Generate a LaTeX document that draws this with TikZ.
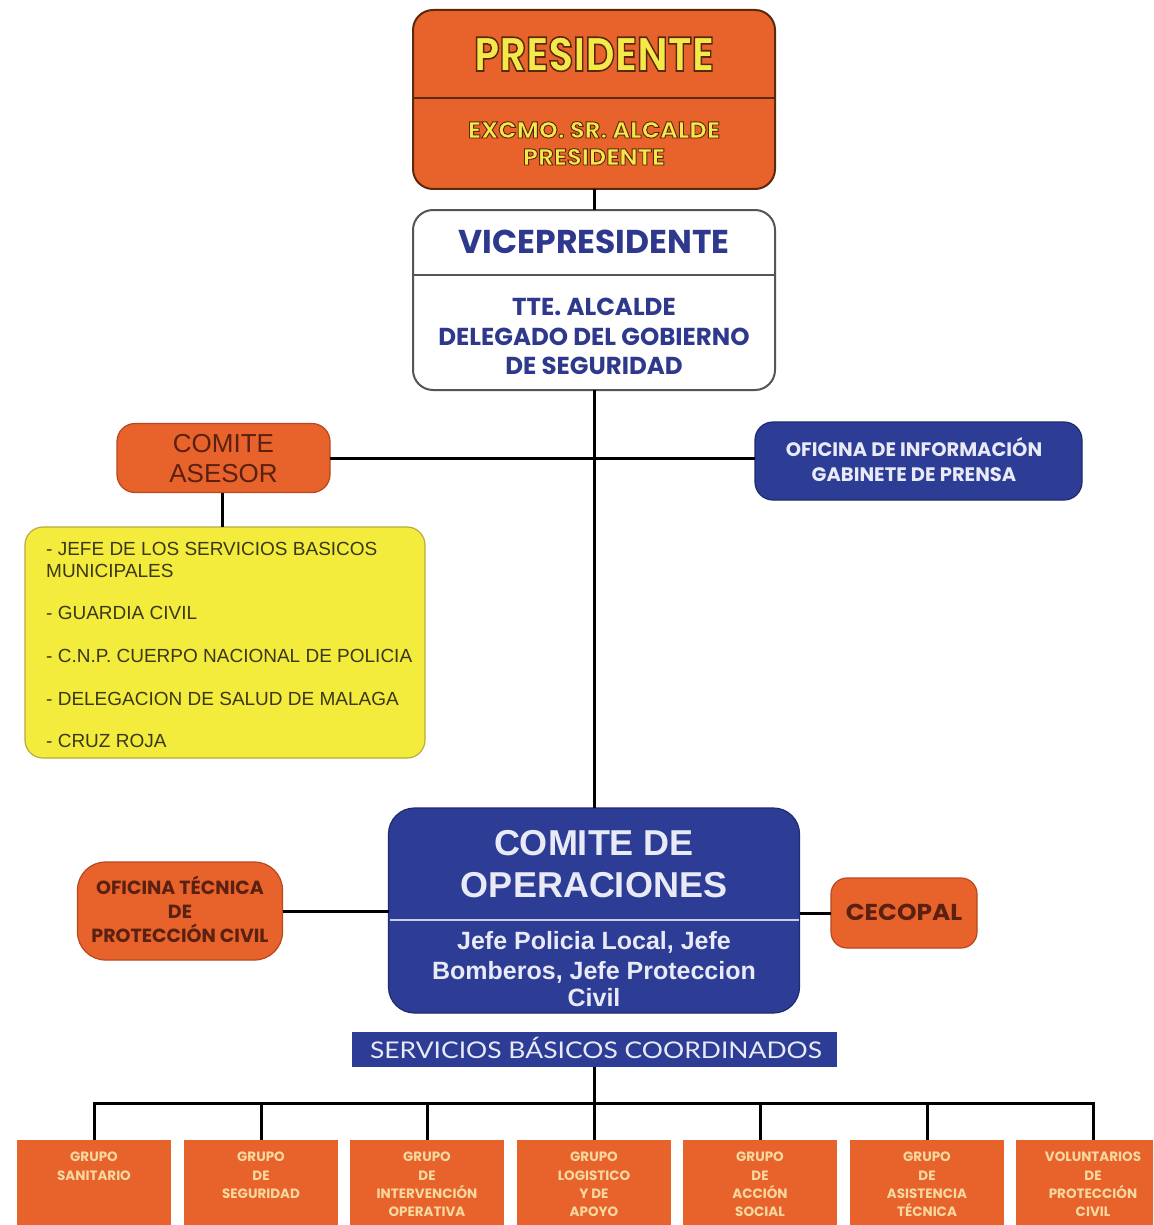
\documentclass[tikz,border=0pt]{standalone}
\usepackage{fontspec}
\usepackage{graphicx}
\setmainfont{Liberation Sans}
\newfontfamily\popf{Poppins}
\newfontfamily\latof{Lato}
\definecolor{org}{HTML}{E8622B}
\definecolor{orgdk}{HTML}{B8481E}
\definecolor{shd}{HTML}{5A2A0E}
\definecolor{blu}{HTML}{2D3C95}
\definecolor{bludk}{HTML}{1F2A70}
\definecolor{ylw}{HTML}{F4EC3C}
\definecolor{ylwdk}{HTML}{B8AC3A}
\definecolor{ytxt}{HTML}{F5E84A}
\definecolor{vtxt}{HTML}{2E388C}
\definecolor{ltxt}{HTML}{E8EAF6}
\definecolor{brn}{HTML}{5A2010}
\definecolor{olv}{HTML}{3A3818}
\definecolor{peach}{HTML}{F7D9A0}
\definecolor{divl}{HTML}{C8CFEA}
\definecolor{gryb}{HTML}{555555}
% yellow text with a dark outline (text render mode: fill + stroke)
\newcommand{\outlined}[2]{\special{pdf:literal direct 2 Tr #1 w 0.35 0.16 0.05 RG}#2\special{pdf:literal direct 0 Tr}}
\begin{document}
\begin{tikzpicture}[x=1pt,y=-1pt,
  conn/.style={line width=3pt, draw=black},
  boxbase/.style={inner sep=0pt, outer sep=0pt, line width=1.2pt},
  orgbox/.style={boxbase, fill=org, draw=orgdk},
  blubox/.style={boxbase, fill=blu, draw=bludk},
  grpbox/.style={boxbase, fill=org, draw=none, anchor=north, minimum width=154pt, minimum height=100pt},
  lbl/.style={inner sep=0pt, anchor=base},
  lblw/.style={inner sep=0pt, anchor=base west},
  titlefont/.style={font=\popf\bfseries\fontsize{48}{48}\selectfont, text=ytxt},
  excfont/.style={font=\popf\bfseries\fontsize{23}{23}\selectfont, text=ytxt},
  vicefont/.style={font=\popf\bfseries\fontsize{33}{33}\selectfont, text=vtxt},
  ttefont/.style={font=\popf\bfseries\fontsize{24.5}{24.5}\selectfont, text=vtxt},
  asefont/.style={font=\fontsize{26}{26}\selectfont, text=brn},
  ylwfont/.style={font=\fontsize{19}{19}\selectfont, text=olv},
  inffont/.style={font=\popf\bfseries\fontsize{19.5}{19.5}\selectfont, text=ltxt},
  tecfont/.style={font=\popf\bfseries\fontsize{19}{19}\selectfont, text=brn},
  cecfont/.style={font=\popf\bfseries\fontsize{23}{23}\selectfont, text=brn},
  opfont/.style={font=\bfseries\fontsize{36}{36}\selectfont, text=ltxt},
  jefefont/.style={font=\bfseries\fontsize{25}{25}\selectfont, text=ltxt},
  servfont/.style={font=\latof\fontsize{23}{23}\selectfont, text=ltxt},
  grpfont/.style={inner sep=0pt, anchor=north, align=center, text=peach, font=\popf\bfseries\fontsize{13.5}{18.3}\selectfont}
]
\clip (0,0) rectangle (1153,1225);
\fill[white] (0,0) rectangle (1153,1225);

% ---------- boxes ----------
\node[orgbox, draw=shd, line width=2pt, rounded corners=20pt, minimum width=362pt, minimum height=179pt] (pres) at (594,99.5) {};
\node[boxbase, fill=white, draw=gryb, line width=2pt, rounded corners=20pt, minimum width=362pt, minimum height=180pt] (vice) at (594,300) {};
\node[orgbox, rounded corners=18pt, minimum width=213pt, minimum height=69pt] (asesor) at (223.5,458) {};
\node[boxbase, fill=ylw, draw=ylwdk, rounded corners=18pt, minimum width=400pt, minimum height=231pt] (ylwbox) at (225,642.5) {};
\node[blubox, rounded corners=18pt, minimum width=327pt, minimum height=78pt] (ofinf) at (918.5,461) {};
\node[orgbox, rounded corners=28pt, minimum width=205pt, minimum height=98pt] (oftec) at (180,911) {};
\node[orgbox, rounded corners=16pt, minimum width=146pt, minimum height=70pt] (cecopal) at (904,913) {};
\node[blubox, rounded corners=26pt, minimum width=411pt, minimum height=205pt] (comite) at (594,910.5) {};
\node[boxbase, fill=blu, draw=none, minimum width=485pt, minimum height=35pt] (serv) at (594,1049.5) {};

% dividers
\coordinate (presdiv) at (594,98);
\coordinate (vicediv) at (594,275);
\coordinate (comdiv) at (594,920);
\draw[line width=1.5pt, draw=shd] (pres.west |- presdiv) -- (pres.east |- presdiv);
\draw[line width=1.5pt, draw=gryb] (vice.west |- vicediv) -- (vice.east |- vicediv);
\draw[line width=2.5pt, draw=divl] ([xshift=1pt]comite.west |- comdiv) -- ([xshift=-1pt]comite.east |- comdiv);

% ---------- texts ----------
\node[lbl, titlefont] (prest) at (594,71) {\scalebox{0.85}[1]{\outlined{1.6}{PRESIDENTE}}};
\node[lbl, excfont] (exc1) at (594,138) {\scalebox{1.05}[1]{\outlined{0.9}{EXCMO. SR. ALCALDE}}};
\node[lbl, excfont] (exc2) at (594,165) {\scalebox{1.05}[1]{\outlined{0.9}{PRESIDENTE}}};

\node[lbl, vicefont] (vicet) at (594,253) {VICEPRESIDENTE};
\node[lbl, ttefont] (tte1) at (594,315.5) {TTE. ALCALDE};
\node[lbl, ttefont] (tte2) at (594,345.5) {DELEGADO DEL GOBIERNO};
\node[lbl, ttefont] (tte3) at (594,374.5) {DE SEGURIDAD};

\node[lbl, asefont] (ase1) at (223.5,452) {COMITE};
\node[lbl, asefont] (ase2) at (223.5,482) {ASESOR};

\node[lblw, ylwfont] (y1) at (46,555) {- JEFE DE LOS SERVICIOS BASICOS};
\node[lblw, ylwfont] (y2) at (46,577) {MUNICIPALES};
\node[lblw, ylwfont] (y3) at (46,619) {- GUARDIA CIVIL};
\node[lblw, ylwfont] (y4) at (46,662) {- C.N.P. CUERPO NACIONAL DE POLICIA};
\node[lblw, ylwfont] (y5) at (46,705) {- DELEGACION DE SALUD DE MALAGA};
\node[lblw, ylwfont] (y6) at (46,747) {- CRUZ ROJA};

\node[lbl, inffont] (inf1) at (914,456.5) {OFICINA DE INFORMACIÓN};
\node[lbl, inffont] (inf2) at (914,481.5) {GABINETE DE PRENSA};

\node[lbl, tecfont] (tec1) at (180,894) {OFICINA TÉCNICA};
\node[lbl, tecfont] (tec2) at (180,918.5) {DE};
\node[lbl, tecfont] (tec3) at (180,942.5) {PROTECCIÓN CIVIL};

\node[lbl, cecfont] (cect) at (904,920.5) {\scalebox{1.08}[1]{CECOPAL}};

\node[lbl, opfont] (op1) at (594,855) {COMITE DE};
\node[lbl, opfont] (op2) at (594,897) {OPERACIONES};
\node[lbl, jefefont] (jf1) at (594,949) {Jefe Policia Local, Jefe};
\node[lbl, jefefont] (jf2) at (594,979) {Bomberos, Jefe Proteccion};
\node[lbl, jefefont] (jf3) at (594,1006) {Civil};

\node[lbl, servfont] (servt) at (596,1058) {\scalebox{1.15}[1]{SERVICIOS BÁSICOS COORDINADOS}};

% ---------- group boxes ----------
\node[grpbox] (g1) at (94,1140) {};
\node[grpbox] (g2) at (261,1140) {};
\node[grpbox] (g3) at (427,1140) {};
\node[grpbox] (g4) at (594,1140) {};
\node[grpbox] (g5) at (760,1140) {};
\node[grpbox] (g6) at (927,1140) {};
\node[grpbox] (g7) at (1093,1140) {};
\node[grpfont] (g1t) at (94,1152) {GRUPO\\SANITARIO};
\node[grpfont] (g2t) at (261,1152) {GRUPO\\DE\\SEGURIDAD};
\node[grpfont] (g3t) at (427,1152) {GRUPO\\DE\\INTERVENCIÓN\\OPERATIVA};
\node[grpfont] (g4t) at (594,1152) {GRUPO\\LOGISTICO\\Y DE\\APOYO};
\node[grpfont] (g5t) at (760,1152) {GRUPO\\DE\\ACCIÓN\\SOCIAL};
\node[grpfont] (g6t) at (927,1152) {GRUPO\\DE\\ASISTENCIA\\TÉCNICA};
\node[grpfont] (g7t) at (1093,1152) {VOLUNTARIOS\\DE\\PROTECCIÓN\\CIVIL};

% ---------- connectors ----------
\coordinate (bus) at (594,1103);
\coordinate (asex) at (222,0);
\draw[conn] (pres.south) -- (vice.north);
\draw[conn] (vice.south) -- (comite.north);
\draw[conn] (asesor.east) -- (asesor.east -| ofinf.west);
\draw[conn] (asesor.south -| asex) -- (ylwbox.north -| asex);
\draw[conn] (oftec.east) -- (oftec.east -| comite.west);
\draw[conn] (cecopal.west -| comite.east) -- (cecopal.west);
\draw[conn] (serv.south) -- (bus);
\draw[conn, line join=miter] (g1.north) -- (g1.north |- bus) -- (g7.north |- bus) -- (g7.north);
\foreach \g in {g2,g3,g4,g5,g6}{
  \draw[conn] (\g.north |- bus) -- (\g.north);
}
\end{tikzpicture}
\end{document}
